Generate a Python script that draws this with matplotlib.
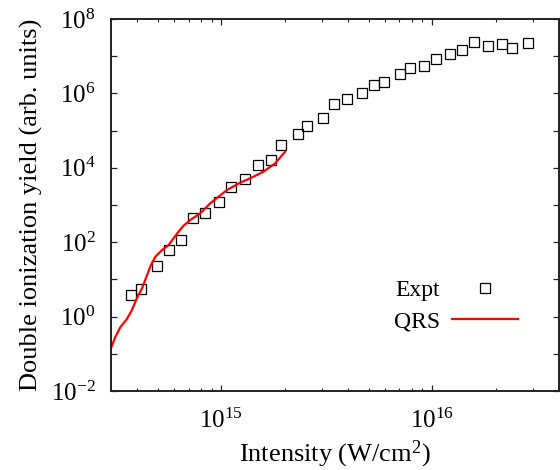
import matplotlib
matplotlib.use("Agg")
import matplotlib.pyplot as plt
from matplotlib.ticker import LogLocator, NullFormatter, NullLocator

# == Data ==

expt_intensity = [3.73e14, 4.15e14, 4.97e14, 5.65e14, 6.44e14, 7.37e14, 8.40e14, 9.78e14,
                  1.115e15, 1.30e15, 1.486e15, 1.73e15, 1.92e15, 2.31e15, 2.56e15, 3.05e15,
                  3.42e15, 3.97e15, 4.66e15, 5.29e15, 5.90e15, 7.05e15, 7.84e15, 9.16e15,
                  1.048e16, 1.216e16, 1.387e16, 1.585e16, 1.84e16, 2.15e16, 2.40e16, 2.86e16]
expt_yield = [3.9, 5.4, 23, 60, 117, 452, 628, 1220,
              2960, 4960, 11600, 16600, 40900, 83000, 1.36e5, 2.19e5,
              5.12e5, 6.98e5, 9.94e5, 1.69e6, 2.0e6, 3.36e6, 4.69e6, 5.51e6,
              8.51e6, 1.12e7, 1.43e7, 2.44e7, 1.91e7, 2.12e7, 1.68e7, 2.21e7]

qrs_intensity = [3.01e14, 3.15e14, 3.32e14, 3.57e14, 3.77e14, 3.98e14, 4.21e14, 4.45e14,
                 4.64e14, 4.87e14, 5.24e14, 5.63e14, 5.94e14, 6.27e14, 6.63e14, 7.13e14,
                 7.95e14, 8.87e14, 9.71e14, 1.064e15, 1.23e15, 1.372e15, 1.586e15, 1.80e15,
                 2.01e15]
qrs_yield = [0.150, 0.288, 0.515, 0.861, 1.50, 3.10, 5.76, 13.1,
             24.4, 40.7, 61.7, 84.1, 127, 191, 278, 395,
             598, 1110, 1670, 2530, 3980, 5220, 7850, 13200,
             27100]

x_limits = (3e14, 4e16)
y_limits = (1e-2, 1e8)
y_exponents = list(range(-2, 9))

# == Style ==

plt.rcParams["font.family"] = ["Liberation Serif", "DejaVu Serif"]
plt.rcParams["mathtext.default"] = "regular"

fig = plt.figure(figsize=(5.6, 4.7), dpi=100)
ax = fig.add_axes([111 / 560, 1 - 391 / 470, 448 / 560, 372 / 470])

ax.plot(expt_intensity, expt_yield, linestyle="none", marker="s", markersize=7,
        markerfacecolor="none", markeredgecolor="black", markeredgewidth=0.9, label="Expt")
ax.plot(qrs_intensity, qrs_yield, color="#ff0000", linewidth=1.6, label="QRS")

ax.set_xscale("log")
ax.set_yscale("log")
ax.set_xlim(*x_limits)
ax.set_ylim(*y_limits)

ax.xaxis.set_major_locator(LogLocator(base=10))
ax.xaxis.set_minor_locator(LogLocator(base=10, subs=range(2, 10)))
ax.xaxis.set_minor_formatter(NullFormatter())

ax.set_yticks([10.0 ** e for e in y_exponents])
ax.set_yticklabels([r"$\mathdefault{10^{%d}}$" % e if e % 2 == 0 else "" for e in y_exponents])
ax.yaxis.set_minor_locator(NullLocator())

ax.tick_params(which="both", direction="in", top=True, right=True, labelsize=18, colors="#222222")
ax.tick_params(which="major", length=4.5, width=0.9)
ax.tick_params(which="minor", length=2.3, width=0.8)
ax.tick_params(axis="y", pad=11)
ax.tick_params(axis="x", pad=13)
ax.tick_params(labelcolor="black")

for spine in ax.spines.values():
    spine.set_linewidth(1.4)
    spine.set_color("#222222")

ax.set_xlabel(r"Intensity (W/cm$^2$)", fontsize=19, labelpad=3.5)
ax.set_ylabel("Double ionization yield (arb. units)", fontsize=19, labelpad=6)

ax.legend(loc="center left", bbox_to_anchor=(394 / 560, 1 - 306 / 470),
          bbox_transform=fig.transFigure, frameon=False, markerfirst=False,
          fontsize=17, handlelength=2.8, handletextpad=0.5, labelspacing=0.42,
          borderpad=0, borderaxespad=0)

fig.savefig("out.png", dpi=100)
